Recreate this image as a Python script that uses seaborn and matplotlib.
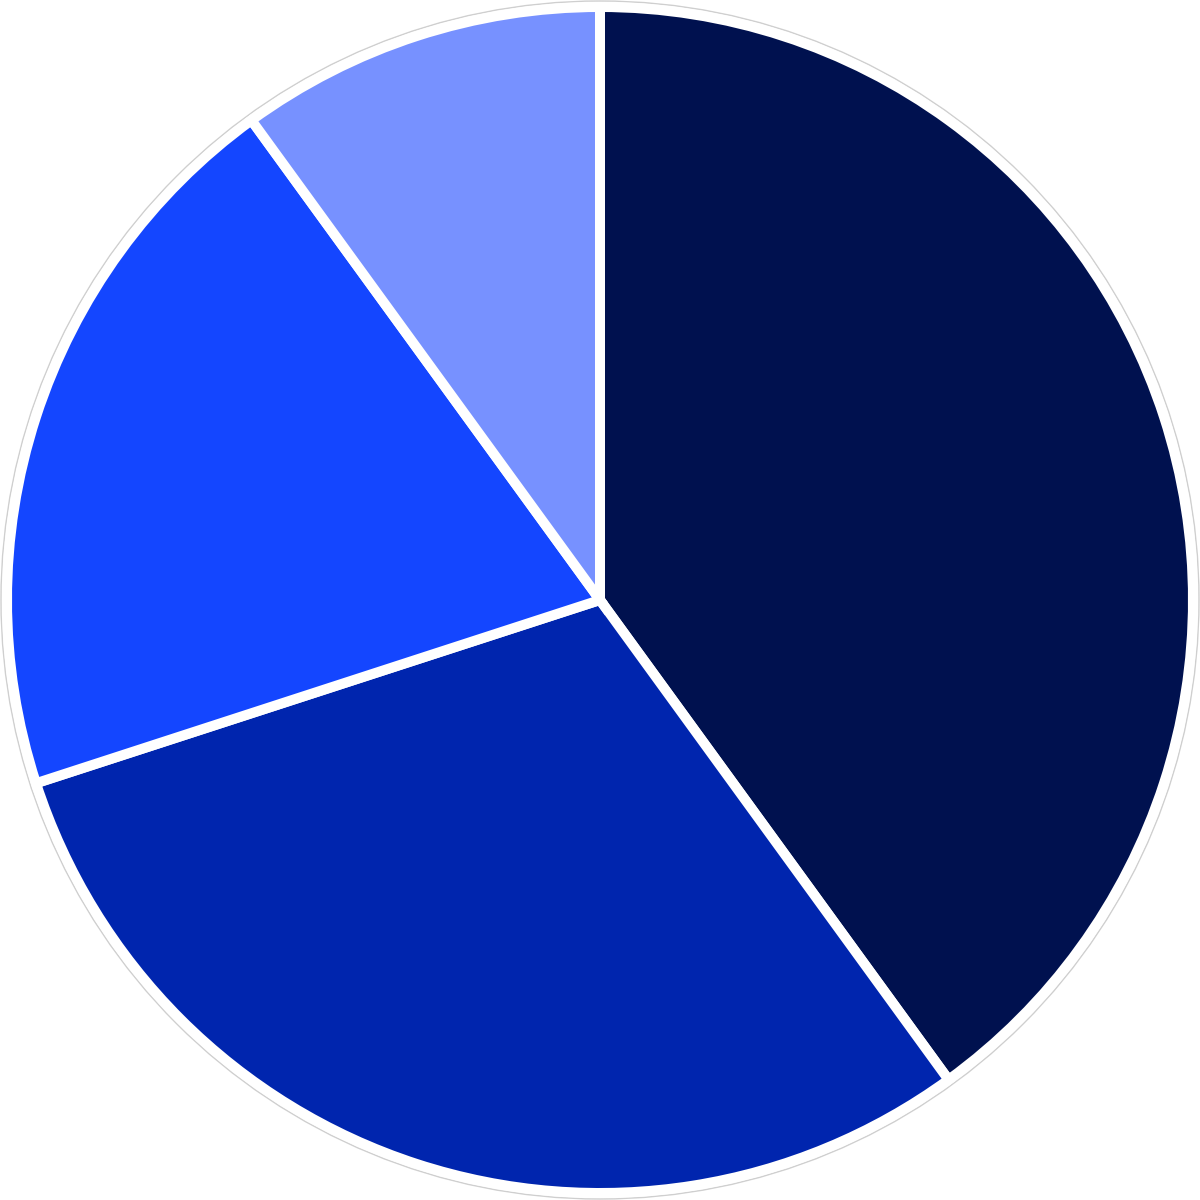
import matplotlib
matplotlib.use("Agg")
import matplotlib.pyplot as plt
import seaborn as sns
from matplotlib.patches import Circle

# ========= DATA =========
labels = ["A", "B", "C", "D"]
values = [40, 30, 20, 10]
colors = ["#00114F", "#0025AE", "#1446FF", "#7791FF"]

# ========= STYLE =========
sns.set_theme(style="white")
palette = sns.color_palette(colors)

# ========= PLOT =========
fig = plt.figure(figsize=(12, 12), dpi=100)
ax = fig.add_axes([0, 0, 1, 1])

wedges, _ = ax.pie(
    values,
    colors=palette,
    startangle=90,
    counterclock=False,
    radius=1.0,
    wedgeprops=dict(edgecolor="white", linewidth=7.2),
)

# faint outer ring
ax.add_patch(Circle((0, 0), 599 / 593, facecolor="none", edgecolor="#cfcfcf",
                    linewidth=1.0, zorder=0))

lim = 600 / 593
ax.set_xlim(-lim, lim)
ax.set_ylim(-lim, lim)
ax.set_aspect("equal")
ax.axis("off")

fig.savefig("out.png", dpi=100, facecolor="white")
